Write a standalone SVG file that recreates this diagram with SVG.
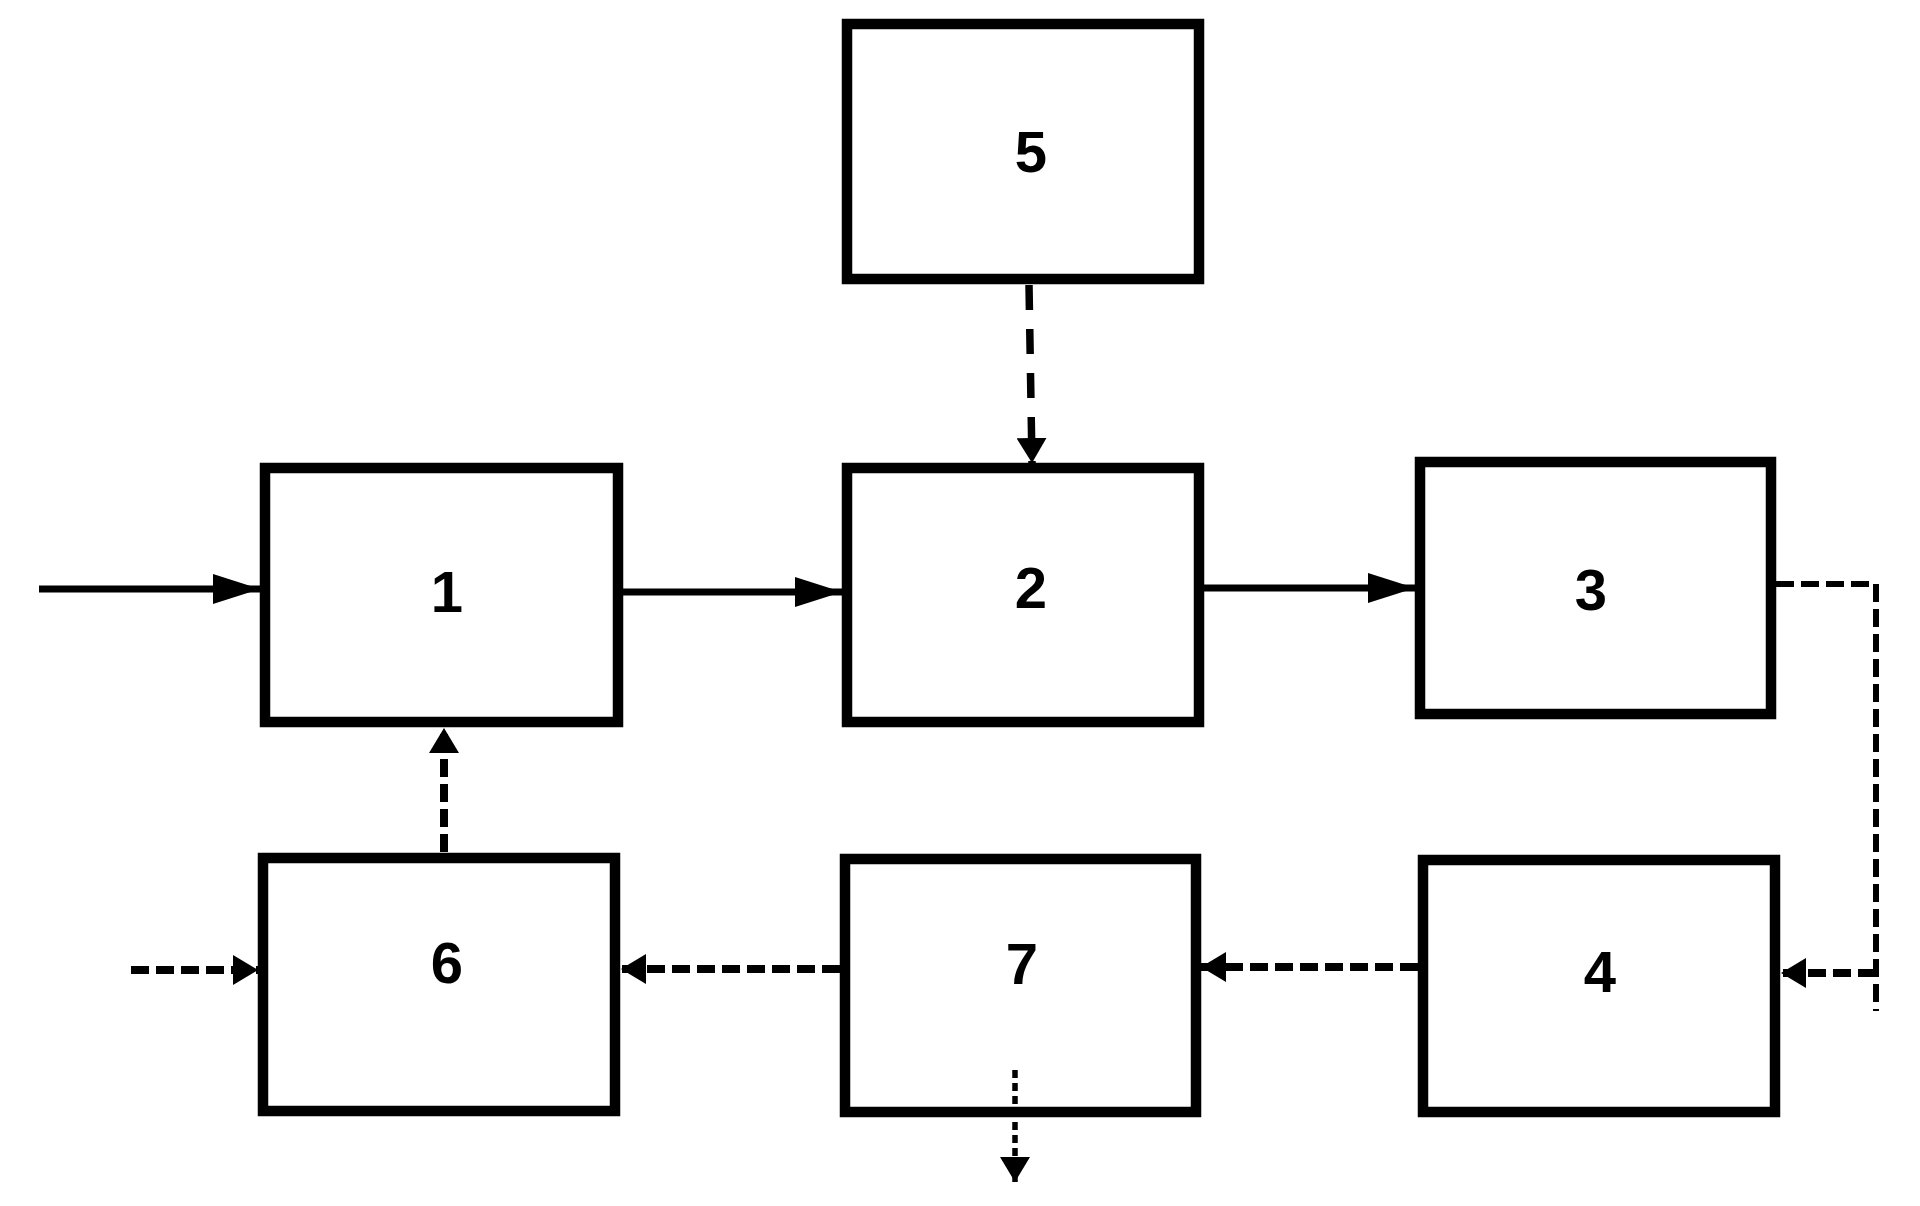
<svg xmlns="http://www.w3.org/2000/svg" width="1920" height="1206" viewBox="0 0 1920 1206">
<style>
.box{fill:#fff;stroke:#000;stroke-width:10.5}
.lbl{font-family:"Liberation Sans",Arial,sans-serif;font-weight:bold;font-size:58px;text-anchor:middle;fill:#000}
.solid{stroke:#000;stroke-width:7;fill:none}
.dash{stroke:#000;stroke-width:8;fill:none;stroke-dasharray:18 7}
.dashL{stroke:#000;stroke-width:7.5;fill:none;stroke-dasharray:25 19}
.dashT{stroke:#000;stroke-width:6;fill:none;stroke-dasharray:18 7}
.dot{stroke:#000;stroke-width:5.5;fill:none;stroke-dasharray:8 5}
</style>
<defs>
<marker id="big" markerUnits="userSpaceOnUse" markerWidth="47" markerHeight="30" refX="47" refY="15" orient="auto">
<path d="M0,0 L47,15 L0,30 z" fill="#000"/>
</marker>
<marker id="small" markerUnits="userSpaceOnUse" markerWidth="25" markerHeight="30" refX="25" refY="15" orient="auto">
<path d="M0,0 L25,15 L0,30 z" fill="#000"/>
</marker>
</defs>
<g id="node1"><rect class="box" x="265" y="468" width="353" height="254"/><text class="lbl" x="447" y="612">1</text></g>
<g id="node2"><rect class="box" x="847" y="468" width="352" height="254"/><text class="lbl" x="1031" y="608">2</text></g>
<g id="node3"><rect class="box" x="1420" y="462" width="351" height="252"/><text class="lbl" x="1591" y="610">3</text></g>
<g id="node4"><rect class="box" x="1423" y="860" width="352" height="252"/><text class="lbl" x="1600" y="992">4</text></g>
<g id="node5"><rect class="box" x="847" y="24" width="352" height="255"/><text class="lbl" x="1031" y="172">5</text></g>
<g id="node6"><rect class="box" x="263" y="858" width="352" height="253"/><text class="lbl" x="447" y="983">6</text></g>
<g id="node7"><rect class="box" x="845" y="859" width="351" height="253"/><text class="lbl" x="1022" y="984">7</text></g>
<g id="connectors">
<line class="solid" x1="39" y1="589" x2="260" y2="589" marker-end="url(#big)"/>
<line class="solid" x1="623" y1="592" x2="842" y2="592" marker-end="url(#big)"/>
<line class="solid" x1="1204" y1="588" x2="1415" y2="588" marker-end="url(#big)"/>
<line class="dashL" x1="1029" y1="285" x2="1032" y2="463" marker-end="url(#small)"/>
<line class="dash" x1="444" y1="852" x2="444" y2="728" marker-end="url(#small)"/>
<polyline class="dashT" points="1776,584 1876,584 1876,1011"/>
<line class="dash" x1="1876" y1="973" x2="1781" y2="973" marker-end="url(#small)"/>
<line class="dash" x1="1418" y1="967" x2="1201" y2="967" marker-end="url(#small)"/>
<line class="dash" x1="840" y1="969" x2="621" y2="969" marker-end="url(#small)"/>
<line class="dash" x1="131" y1="970" x2="258" y2="970" marker-end="url(#small)" stroke-dasharray="8 7 18 7 18 7 18 7 18 7 40"/>
<line class="dot" x1="1015" y1="1070" x2="1015" y2="1182" marker-end="url(#small)"/>
</g>
</svg>
